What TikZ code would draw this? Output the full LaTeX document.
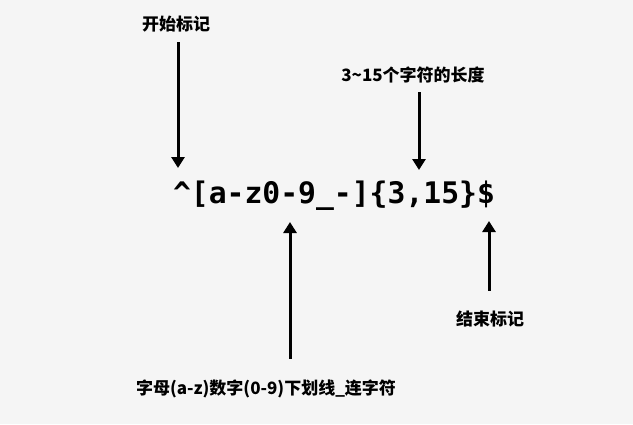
\documentclass[tikz,border=0pt]{standalone}
\usepackage{fontspec}
\newfontfamily\cjk{Noto Sans CJK SC}
\newfontfamily\monob{DejaVu Sans Mono}
\usetikzlibrary{arrows.meta}
\definecolor{bg}{HTML}{F5F5F5}
\tikzset{
  lbl/.style={inner sep=0pt, font=\cjk\bfseries\fontsize{17}{20}\selectfont, text=black},
  rx/.style={inner sep=0pt, anchor=base, font=\monob\bfseries\fontsize{29.7}{32}\selectfont, text=black},
  arr/.style={line width=3pt, -{Triangle[width=13pt,length=11pt]}, black}
}
\begin{document}
\begin{tikzpicture}[x=1pt,y=-1pt]
\fill[bg] (0,0) rectangle (633,424);
\useasboundingbox (0,0) rectangle (633,424);
\node[rx] (re) at (334,203) {\^{}[a-z0-9\_-]\{3,15\}\$};
\node[lbl] (start) at (176,24) {开始标记};
\node[lbl] (len) at (413,75) {3\textasciitilde15个字符的长度};
\node[lbl] (chars) at (266,389) {字母(a-z)数字(0-9)下划线\_连字符};
\node[lbl] (end) at (490,319) {结束标记};
\coordinate (t1) at (178,168);
\coordinate (t2) at (419,170);
\coordinate (t3) at (290,222);
\coordinate (t4) at (489,221);
\draw[arr] (start.south) ++(2,10) -- (t1);
\draw[arr] (len.south) ++(6,9) -- (t2);
\draw[arr] (chars.north) ++(24,-21) -- (t3);
\draw[arr] (end.north) ++(-1,-20) -- (t4);
\end{tikzpicture}
\end{document}
